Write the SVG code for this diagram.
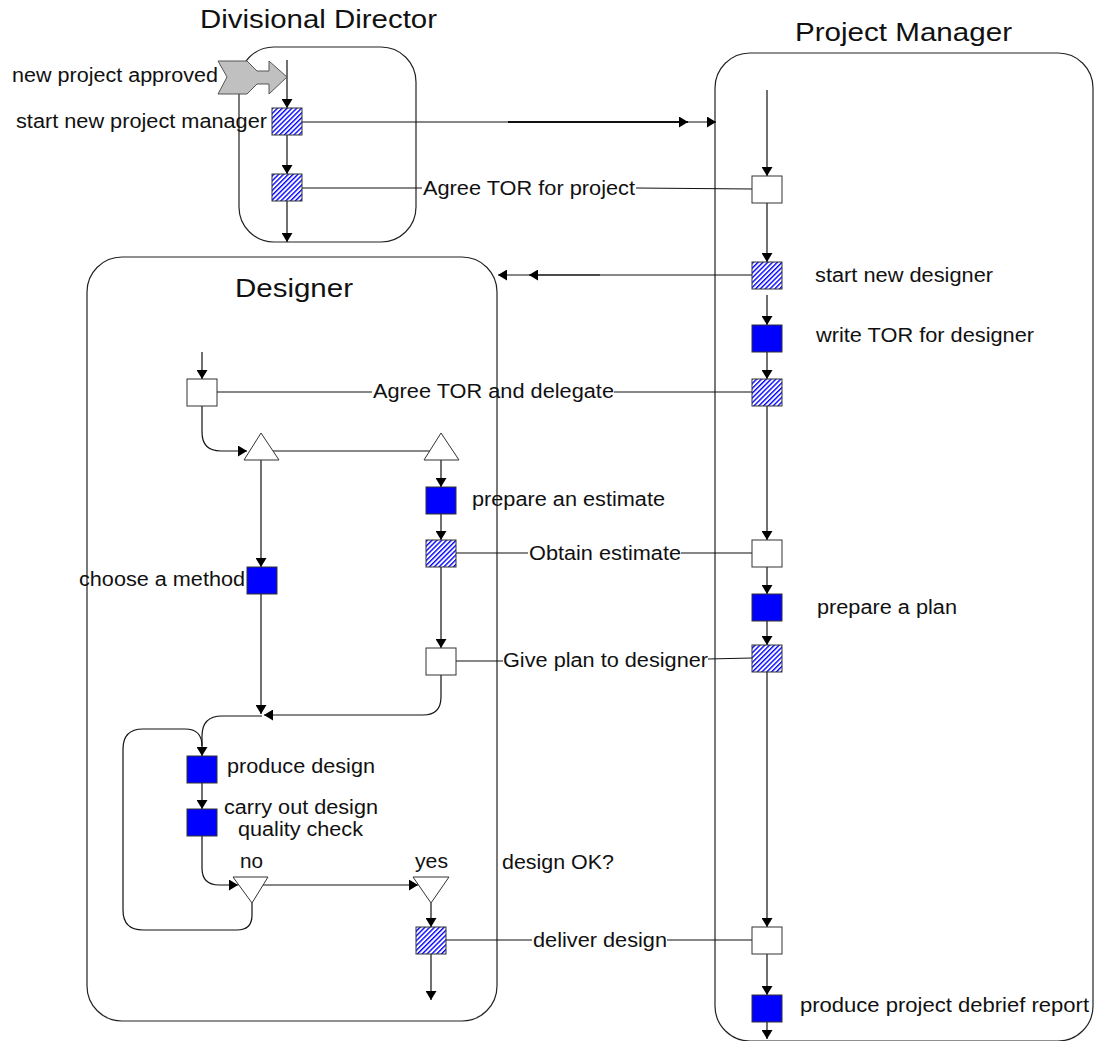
<svg xmlns="http://www.w3.org/2000/svg" width="1094" height="1041" viewBox="0 0 1094 1041">
<style>
.lane{fill:none;stroke:#222;stroke-width:1.2}
.t{font-family:"Liberation Sans",Arial,sans-serif;fill:#111}
.title{font-size:25px}
.lbl{font-size:20px}
.wht{fill:#fff;stroke:#333;stroke-width:1}
.blu{fill:#0000ff;stroke:#333;stroke-width:1}
.hat{fill:url(#hatch);stroke:#333;stroke-width:1}
.tri{fill:#fff;stroke:#333;stroke-width:1}
.c{fill:none;stroke:#111;stroke-width:1.2}
.a{fill:none;stroke:#111;stroke-width:1.2;marker-end:url(#ah)}
</style>
<defs>
<pattern id="hatch" width="3.4" height="3.4" patternUnits="userSpaceOnUse" patternTransform="rotate(45)">
<rect width="3.4" height="3.4" fill="#fff"/>
<line x1="0.7" y1="0" x2="0.7" y2="3.4" stroke="#0000ff" stroke-width="1.4"/>
</pattern>
<marker id="ah" markerUnits="userSpaceOnUse" viewBox="0 0 9 11" refX="9" refY="5.5" markerWidth="9" markerHeight="11" orient="auto">
<path d="M0,0 L9,5.5 L0,11 z" fill="#000"/>
</marker>
</defs>

<g id="lane-dd">
<rect class="lane" x="239" y="47" width="177" height="195" rx="35"/>
<text class="t title" x="200" y="28" textLength="237" lengthAdjust="spacingAndGlyphs">Divisional Director</text>
</g>
<g id="lane-pm">
<rect class="lane" x="715" y="53" width="378" height="988" rx="35"/>
<text class="t title" x="795" y="41" textLength="217" lengthAdjust="spacingAndGlyphs">Project Manager</text>
</g>
<g id="lane-designer">
<rect class="lane" x="87" y="257" width="410" height="764" rx="35"/>
<text class="t title" x="235" y="297" textLength="118" lengthAdjust="spacingAndGlyphs">Designer</text>
</g>

<g id="connectors">
<line class="a" x1="287" y1="60" x2="287" y2="108"/>
<line class="a" x1="287" y1="135" x2="287" y2="174"/>
<line class="a" x1="287" y1="201" x2="287" y2="242"/>
<line class="a" x1="302" y1="122" x2="716" y2="122"/>
<line class="a" x1="508" y1="122" x2="688" y2="122" style="stroke-width:2"/>
<line class="c" x1="302" y1="188" x2="422" y2="188"/>
<line class="c" x1="636" y1="188" x2="752" y2="189"/>
<line class="a" x1="767" y1="90" x2="767" y2="176"/>
<line class="a" x1="767" y1="203" x2="767" y2="262"/>
<line class="a" x1="767" y1="295" x2="767" y2="325"/>
<line class="a" x1="767" y1="352" x2="767" y2="379"/>
<line class="a" x1="767" y1="406" x2="767" y2="540"/>
<line class="a" x1="767" y1="567" x2="767" y2="594"/>
<line class="a" x1="767" y1="621" x2="767" y2="645"/>
<line class="a" x1="767" y1="672" x2="767" y2="927"/>
<line class="a" x1="767" y1="954" x2="767" y2="995"/>
<line class="a" x1="767" y1="1022" x2="767" y2="1039"/>
<line class="a" x1="752" y1="275" x2="498" y2="275"/>
<line class="a" x1="600" y1="275" x2="529" y2="275"/>
<line class="a" x1="202" y1="352" x2="202" y2="379"/>
<line class="c" x1="217" y1="392" x2="372" y2="392"/>
<line class="c" x1="614" y1="392" x2="752" y2="392"/>
<path class="a" d="M202,406 L202,432 Q202,451 221,451 L247,451"/>
<line class="c" x1="270" y1="451" x2="430" y2="451"/>
<line class="a" x1="261" y1="460" x2="261" y2="567"/>
<line class="a" x1="441" y1="460" x2="441" y2="487"/>
<line class="a" x1="441" y1="513" x2="441" y2="540"/>
<line class="a" x1="441" y1="567" x2="441" y2="648"/>
<line class="c" x1="456" y1="553" x2="528" y2="553"/>
<line class="c" x1="681" y1="553" x2="752" y2="553"/>
<line class="c" x1="456" y1="661" x2="503" y2="661"/>
<line class="c" x1="708" y1="659" x2="752" y2="658"/>
<path class="a" d="M441,675 L441,697 Q441,715 423,715 L264,715"/>
<line class="a" x1="261" y1="594" x2="261" y2="714"/>
<path class="a" d="M262,716 L222,716 Q202,716 202,736 L202,756"/>
<line class="a" x1="202" y1="783" x2="202" y2="809"/>
<path class="a" d="M202,836 L202,868 Q202,885 219,885 L238,885"/>
<line class="a" x1="262" y1="885" x2="418" y2="885"/>
<path class="c" d="M252,903 L252,915 Q252,930 237,930 L143,930 Q123,930 123,910 L123,749 Q123,729 143,729 L185,729 Q202,729 202,746"/>
<line class="a" x1="431" y1="903" x2="431" y2="927"/>
<line class="a" x1="431" y1="954" x2="431" y2="1000"/>
<line class="c" x1="446" y1="940" x2="532" y2="940"/>
<line class="c" x1="667" y1="940" x2="752" y2="940"/>
</g>

<g id="new-project-approved">
<polygon points="218,61 247,61 257,71 269,71 269,61 287,77 269,94 269,84 257,84 247,94 218,94 227,77" fill="#c0c0c0" stroke="#555" stroke-width="1"/>
<text class="t lbl" x="12" y="82" textLength="206" lengthAdjust="spacingAndGlyphs">new project approved</text>
</g>
<g id="start-new-project-manager">
<rect class="hat" x="272" y="108" width="30" height="27"/>
<text class="t lbl" x="16" y="128" textLength="251" lengthAdjust="spacingAndGlyphs">start new project manager</text>
</g>
<g id="dd-agree-tor">
<rect class="hat" x="272" y="174" width="30" height="27"/>
</g>
<g id="label-agree-tor-project">
<text class="t lbl" x="423" y="195" textLength="212" lengthAdjust="spacingAndGlyphs">Agree TOR for project</text>
</g>

<g id="pm-agree-tor">
<rect class="wht" x="752" y="176" width="30" height="27"/>
</g>
<g id="start-new-designer">
<rect class="hat" x="752" y="262" width="30" height="27"/>
<text class="t lbl" x="815" y="282" textLength="178" lengthAdjust="spacingAndGlyphs">start new designer</text>
</g>
<g id="write-tor">
<rect class="blu" x="752" y="325" width="30" height="27"/>
<text class="t lbl" x="816" y="342" textLength="218" lengthAdjust="spacingAndGlyphs">write TOR for designer</text>
</g>
<g id="pm-delegate">
<rect class="hat" x="752" y="379" width="30" height="27"/>
</g>
<g id="pm-obtain-estimate">
<rect class="wht" x="752" y="540" width="30" height="27"/>
</g>
<g id="prepare-plan">
<rect class="blu" x="752" y="594" width="30" height="27"/>
<text class="t lbl" x="817" y="614" textLength="140" lengthAdjust="spacingAndGlyphs">prepare a plan</text>
</g>
<g id="pm-give-plan">
<rect class="hat" x="752" y="645" width="30" height="27"/>
</g>
<g id="pm-deliver">
<rect class="wht" x="752" y="927" width="30" height="27"/>
</g>
<g id="debrief-report">
<rect class="blu" x="752" y="995" width="30" height="27"/>
<text class="t lbl" x="800" y="1012" textLength="289" lengthAdjust="spacingAndGlyphs">produce project debrief report</text>
</g>

<g id="designer-agree-tor">
<rect class="wht" x="187" y="379" width="30" height="27"/>
</g>
<g id="label-agree-delegate">
<text class="t lbl" x="373" y="398" textLength="241" lengthAdjust="spacingAndGlyphs">Agree TOR and delegate</text>
</g>
<g id="fork-1">
<polygon class="tri" points="261,433 244,460 279,460"/>
</g>
<g id="fork-2">
<polygon class="tri" points="441,433 424,460 459,460"/>
</g>
<g id="choose-method">
<rect class="blu" x="247" y="567" width="30" height="27"/>
<text class="t lbl" x="79" y="586" textLength="166" lengthAdjust="spacingAndGlyphs">choose a method</text>
</g>
<g id="prepare-estimate">
<rect class="blu" x="426" y="487" width="30" height="27"/>
<text class="t lbl" x="472" y="506" textLength="193" lengthAdjust="spacingAndGlyphs">prepare an estimate</text>
</g>
<g id="designer-obtain-estimate">
<rect class="hat" x="426" y="540" width="30" height="27"/>
</g>
<g id="label-obtain-estimate">
<text class="t lbl" x="529" y="560" textLength="152" lengthAdjust="spacingAndGlyphs">Obtain estimate</text>
</g>
<g id="designer-give-plan">
<rect class="wht" x="426" y="648" width="30" height="27"/>
</g>
<g id="label-give-plan">
<text class="t lbl" x="503" y="667" textLength="205" lengthAdjust="spacingAndGlyphs">Give plan to designer</text>
</g>
<g id="produce-design">
<rect class="blu" x="187" y="756" width="30" height="27"/>
<text class="t lbl" x="227" y="773" textLength="148" lengthAdjust="spacingAndGlyphs">produce design</text>
</g>
<g id="quality-check">
<rect class="blu" x="187" y="809" width="30" height="27"/>
<text class="t lbl" x="224" y="814" textLength="154" lengthAdjust="spacingAndGlyphs">carry out design</text>
<text class="t lbl" x="238" y="836" textLength="125" lengthAdjust="spacingAndGlyphs">quality check</text>
</g>
<g id="decision-no">
<polygon class="tri" points="233,877 268,877 252,903"/>
<text class="t lbl" x="240" y="868" textLength="23" lengthAdjust="spacingAndGlyphs">no</text>
</g>
<g id="decision-yes">
<polygon class="tri" points="413,877 449,877 431,903"/>
<text class="t lbl" x="415" y="868" textLength="33" lengthAdjust="spacingAndGlyphs">yes</text>
</g>
<g id="label-design-ok">
<text class="t lbl" x="502" y="869" textLength="112" lengthAdjust="spacingAndGlyphs">design OK?</text>
</g>
<g id="designer-deliver">
<rect class="hat" x="416" y="927" width="30" height="27"/>
</g>
<g id="label-deliver-design">
<text class="t lbl" x="533" y="947" textLength="134" lengthAdjust="spacingAndGlyphs">deliver design</text>
</g>
</svg>
